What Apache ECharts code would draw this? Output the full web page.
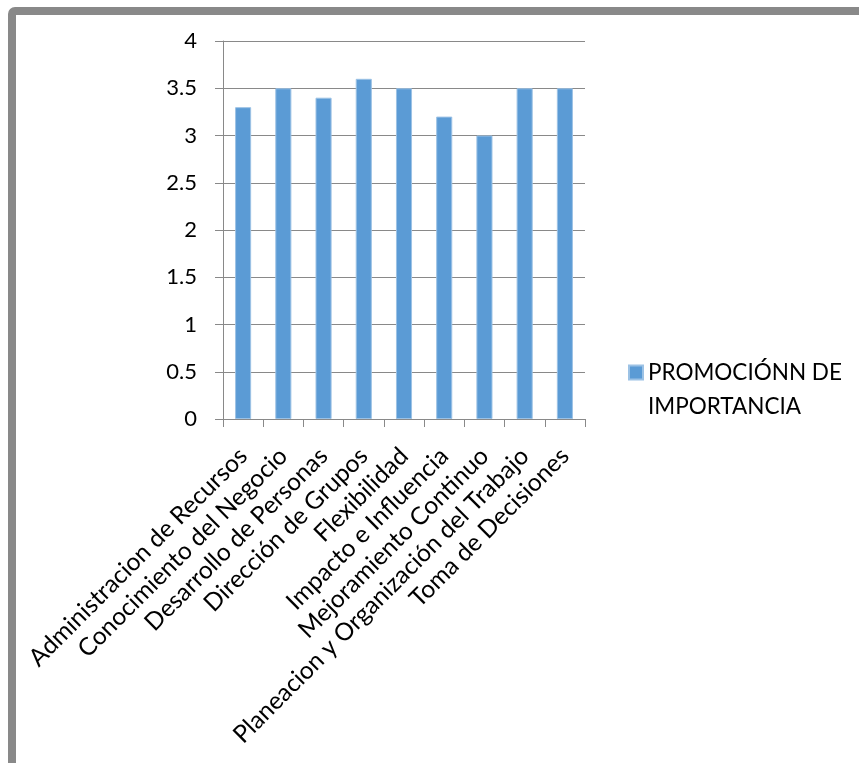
<!DOCTYPE html>
<html>
<head>
<meta charset="utf-8">
<script src="https://cdn.jsdelivr.net/npm/echarts@6/dist/echarts.min.js"></script>
<style>
  html, body { margin: 0; padding: 0; background: #fff; }
  #chart { width: 859px; height: 763px; }
</style>
</head>
<body>
<div id="chart"></div>
<script>
// Competency categories along the x axis
const categories = [
  'Administracion de Recursos',
  'Conocimiento del Negocio',
  'Desarrollo de Personas',
  'Dirección de Grupos',
  'Flexibilidad',
  'Impacto e Influencia',
  'Mejoramiento Continuo',
  'Planeacion y Organización del Trabajo',
  'Toma de Decisiones'
];

// Importance score per competency
const seriesName = 'PROMOCIÓNN DE IMPORTANCIA';
const legendLines = ['PROMOCIÓNN DE', 'IMPORTANCIA'];
const values = [3.3, 3.5, 3.4, 3.6, 3.5, 3.2, 3.0, 3.5, 3.5];

// Value axis range
const yMin = 0;
const yMax = 4;
const yStep = 0.5;

const FONT = 'Lato, "Liberation Sans", sans-serif';
const GRID = '#898989';

const chart = echarts.init(document.getElementById('chart'), null, { renderer: 'canvas' });

chart.setOption({
  backgroundColor: '#ffffff',
  animation: false,
  textStyle: { fontFamily: FONT, color: '#000' },
  graphic: [{
    type: 'rect',
    left: 8,
    top: 7,
    z: -10,
    shape: { x: 0, y: 0, width: 900, height: 800, r: 3 },
    style: { fill: 'none', stroke: '#898989', lineWidth: 8 },
    position: [4, 4],
    silent: true
  }],
  grid: {
    left: 223,
    right: 274,
    top: 41,
    bottom: 344,
    containLabel: false
  },
  legend: {
    data: [seriesName],
    orient: 'vertical',
    left: 628,
    top: 327,
    padding: 0,
    itemWidth: 14,
    itemHeight: 14,
    itemGap: 0,
    icon: 'rect',
    // a leading empty line keeps the first text line level with the swatch
    formatter: function () { return '{e|}\n{t|' + legendLines[0] + '}\n{t|' + legendLines[1] + '}'; },
    textStyle: {
      fontFamily: FONT,
      fontSize: 22.5,
      color: '#000',
      rich: {
        e: { fontSize: 22.5, lineHeight: 34 },
        t: { fontFamily: FONT, fontSize: 22.5, lineHeight: 34, color: '#000' }
      }
    }
  },
  xAxis: {
    type: 'category',
    data: categories,
    boundaryGap: true,
    axisLine: { show: true, lineStyle: { color: GRID, width: 1 } },
    axisTick: { show: true, length: 8, lineStyle: { color: GRID } },
    axisLabel: {
      interval: 0,
      rotate: 45,
      margin: 33,
      fontFamily: FONT,
      fontSize: 24.5,
      color: '#000'
    },
    splitLine: { show: false }
  },
  yAxis: {
    type: 'value',
    min: yMin,
    max: yMax,
    interval: yStep,
    axisLine: { show: true, lineStyle: { color: GRID, width: 1 } },
    axisTick: { show: true, length: 8, inside: false, lineStyle: { color: GRID } },
    axisLabel: {
      margin: 26,
      fontFamily: FONT,
      fontSize: 22,
      color: '#000'
    },
    splitLine: { show: true, lineStyle: { color: GRID, width: 1 } }
  },
  series: [{
    name: seriesName,
    type: 'bar',
    data: values,
    barWidth: '40%',
    itemStyle: {
      color: '#5B9BD5',
      borderColor: '#9CC2E5',
      borderWidth: 1
    }
  }]
});
</script>
</body>
</html>
